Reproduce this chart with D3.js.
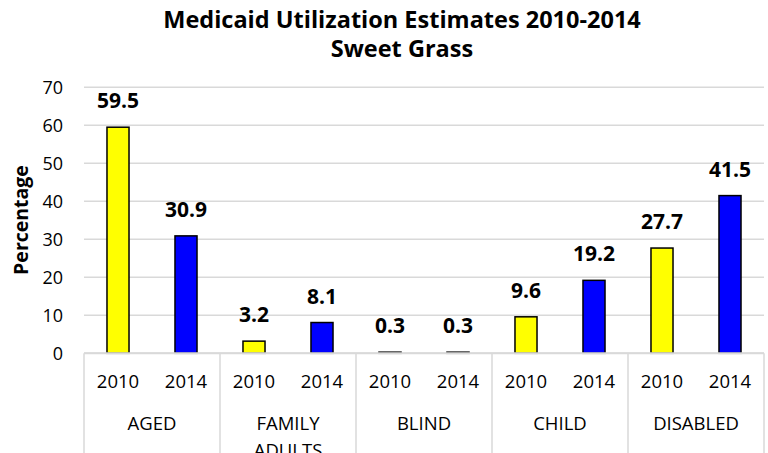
<!DOCTYPE html>
<html><head><meta charset="utf-8">
<script src="https://cdn.jsdelivr.net/npm/d3@7"></script>
<style>body{margin:0;background:#fff;} svg{display:block;font-family:"Open Sans","Liberation Sans",sans-serif;}</style>
</head><body>
<svg id="c" width="768" height="453"></svg>
<script>
const categories = ["AGED", "FAMILY ADULTS", "BLIND", "CHILD", "DISABLED"];
const years = ["2010", "2014"];
const values2010 = [59.5, 3.2, 0.3, 9.6, 27.7];
const values2014 = [30.9, 8.1, 0.3, 19.2, 41.5];
const yTicks = [0, 10, 20, 30, 40, 50, 60, 70];
const titleLines = ["Medicaid Utilization Estimates 2010-2014", "Sweet Grass"];
const yLabel = "Percentage";
const colors = {"2010": "#FFFF00", "2014": "#0000FF"};

(function(){
const svg = d3.select("#c");
const pL = 84, pR = 764, pT = 87.3, pB = 353.3;
const bars = [];
categories.forEach((c, i) => {
  bars.push({cat: c, year: years[0], v: values2010[i], key: c + "|" + years[0]});
  bars.push({cat: c, year: years[1], v: values2014[i], key: c + "|" + years[1]});
});
const x = d3.scaleBand().domain(bars.map(d => d.key)).range([pL, pR]).paddingInner(0.676).paddingOuter(0.338);
const xc = d3.scaleBand().domain(categories).range([pL, pR]);
const y = d3.scaleLinear().domain([0, 70]).range([pB, pT]);

svg.append("g").selectAll("line").data(yTicks).join("line")
  .attr("x1", pL).attr("x2", pR)
  .attr("y1", d => y(d)).attr("y2", d => y(d))
  .attr("stroke", "#d9d9d9").attr("stroke-width", 1.5);

const ya = d3.axisLeft(y).tickValues(yTicks).tickSize(0).tickPadding(21);
const gy = svg.append("g").attr("transform", `translate(${pL},0)`).call(ya);
gy.select(".domain").remove();
gy.selectAll("text").attr("font-size", 18).attr("fill", "#000").attr("font-family", "Open Sans, Liberation Sans, sans-serif");

const seps = categories.map(c => xc(c)).concat([pR]);
svg.append("g").selectAll("line").data(seps).join("line")
  .attr("x1", d => d).attr("x2", d => d)
  .attr("y1", pB).attr("y2", 453)
  .attr("stroke", "#d9d9d9").attr("stroke-width", 1.5);

svg.append("g").selectAll("rect").data(bars).join("rect")
  .attr("x", d => x(d.key)).attr("width", x.bandwidth())
  .attr("y", d => y(d.v)).attr("height", d => y(0) - y(d.v))
  .attr("fill", d => colors[d.year]).attr("stroke", "#000").attr("stroke-width", 1.5);

svg.append("line").attr("x1", pL).attr("x2", pR).attr("y1", pB).attr("y2", pB)
  .attr("stroke", "#d9d9d9").attr("stroke-width", 2);

svg.append("g").selectAll("text").data(bars).join("text")
  .attr("x", d => x(d.key) + x.bandwidth() / 2).attr("y", d => y(d.v) - 19)
  .attr("text-anchor", "middle").attr("font-size", 21).attr("font-weight", "bold")
  .text(d => d.v.toFixed(1));

svg.append("g").selectAll("text").data(bars).join("text")
  .attr("x", d => x(d.key) + x.bandwidth() / 2).attr("y", 388)
  .attr("text-anchor", "middle").attr("font-size", 18.5).text(d => d.year);

const cg = svg.append("g").selectAll("text").data(categories).join("text")
  .attr("x", d => xc(d) + xc.bandwidth() / 2).attr("y", 430)
  .attr("text-anchor", "middle").attr("font-size", 18.5);
cg.each(function(d) {
  const words = d.split(" ");
  const t = d3.select(this);
  words.forEach((w, i) => t.append("tspan").attr("x", t.attr("x")).attr("dy", i === 0 ? 0 : 27).text(w));
});

svg.append("g").selectAll("text").data(titleLines).join("text")
  .attr("x", 402).attr("y", (d, i) => 28 + i * 29)
  .attr("text-anchor", "middle").attr("font-size", 23.5).attr("font-weight", "bold").text(d => d);

svg.append("text").attr("transform", "translate(28,220) rotate(-90)")
  .attr("text-anchor", "middle").attr("font-size", 19.5).attr("font-weight", "bold").text(yLabel);
})();
</script>
</body></html>
